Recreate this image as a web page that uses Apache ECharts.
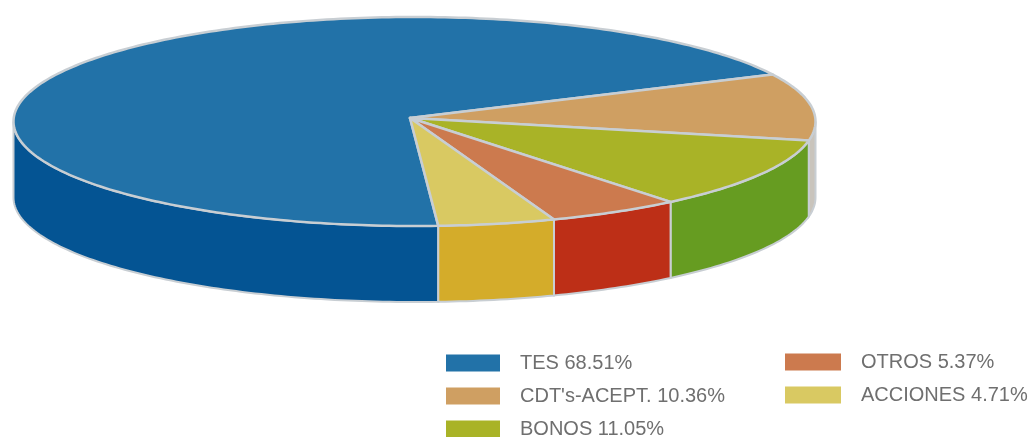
<!DOCTYPE html>
<html>
<head>
<meta charset="utf-8">
<style>
    html, body { margin: 0; padding: 0; background: #fff; }
    #chart { width: 1033px; height: 437px; }
</style>
<script src="https://cdn.jsdelivr.net/npm/echarts@6/dist/echarts.min.js"></script>
</head>
<body>
<div id="chart"></div>
<script>
const categories = ['TES', "CDT's-ACEPT.", 'BONOS', 'OTROS', 'ACCIONES'];
const shares = [68.51, 10.36, 11.05, 5.37, 4.71];
const topColors = ['#2272a8', '#cf9f62', '#a9b327', '#cc7a4e', '#d9c962'];
const wallColors = ['#045493', '#c9c4bc', '#669c21', '#bd2f17', '#d4ac2a'];

const names = categories.map((c, i) => `${c} ${shares[i].toFixed(2)}%`);

// elipse de la tapa, el pie se dibuja a mano porque echarts no trae pie 3d
const CX = 414.5;
const CY = 121.5;
const RX = 401;
const RY = 104.5;
const DEPTH = 76;
const APEX = [410, 118];
const START_DEG = 86.6;
const SEAM = '#c8ced3';

function rimPoint(deg, dy) {
    const a = deg * Math.PI / 180;
    return [CX + RX * Math.cos(a), CY + RY * Math.sin(a) + dy];
}

function arcPoints(from, to, dy) {
    const pts = [];
    const steps = Math.max(2, Math.ceil(Math.abs(to - from)));
    for (let i = 0; i <= steps; i++) {
        pts.push(rimPoint(from + (to - from) * i / steps, dy));
    }
    return pts;
}

// parte visible de la pared: solo donde sin > 0
function wallRanges(from, to) {
    const ranges = [];
    [0, 360].forEach(offset => {
        const a = Math.max(from, offset);
        const b = Math.min(to, offset + 180);
        if (b > a) {
            ranges.push([a, b]);
        }
    });
    return ranges;
}

function renderSlice(index) {
    const before = shares.slice(0, index).reduce((s, v) => s + v, 0);
    const total = shares.reduce((s, v) => s + v, 0);
    return function (params, api) {
        const from = START_DEG + before / total * 360;
        const to = from + api.value(0) / total * 360;
        const children = wallRanges(from, to).map(([a, b]) => ({
            type: 'polygon',
            shape: { points: arcPoints(a, b, 0).concat(arcPoints(b, a, DEPTH)) },
            style: { fill: wallColors[index], stroke: SEAM, lineWidth: 2 },
        }));
        children.push({
            type: 'polygon',
            shape: { points: [APEX].concat(arcPoints(from, to, 0)) },
            style: { fill: topColors[index], stroke: SEAM, lineWidth: 2.5, lineJoin: 'round' },
        });
        return { type: 'group', children };
    };
}

const series = names.map((name, i) => ({
    type: 'custom',
    name,
    coordinateSystem: 'none',
    data: [[shares[i]]],
    renderItem: renderSlice(i),
    itemStyle: { color: topColors[i] },
    silent: true,
}));

function legendAt(left, top, swatchWidth, data) {
    return {
        left,
        top,
        height: 120,
        orient: 'vertical',
        data,
        icon: 'rect',
        itemWidth: swatchWidth,
        itemHeight: 17,
        itemGap: 11,
        padding: 0,
        selectedMode: false,
        textStyle: {
            color: '#6f6f6f',
            fontFamily: 'Liberation Sans',
            fontSize: 20,
            lineHeight: 20,
            padding: [2, 0, 0, 15],
        },
    };
}

const chart = echarts.init(document.getElementById('chart'), null, { renderer: 'canvas' });
chart.setOption({
    animation: false,
    backgroundColor: '#fff',
    tooltip: { show: false },
    legend: [legendAt(446, 352, 54, names.slice(0, 3)), legendAt(785, 351, 56, names.slice(3))],
    series,
});
</script>
</body>
</html>
